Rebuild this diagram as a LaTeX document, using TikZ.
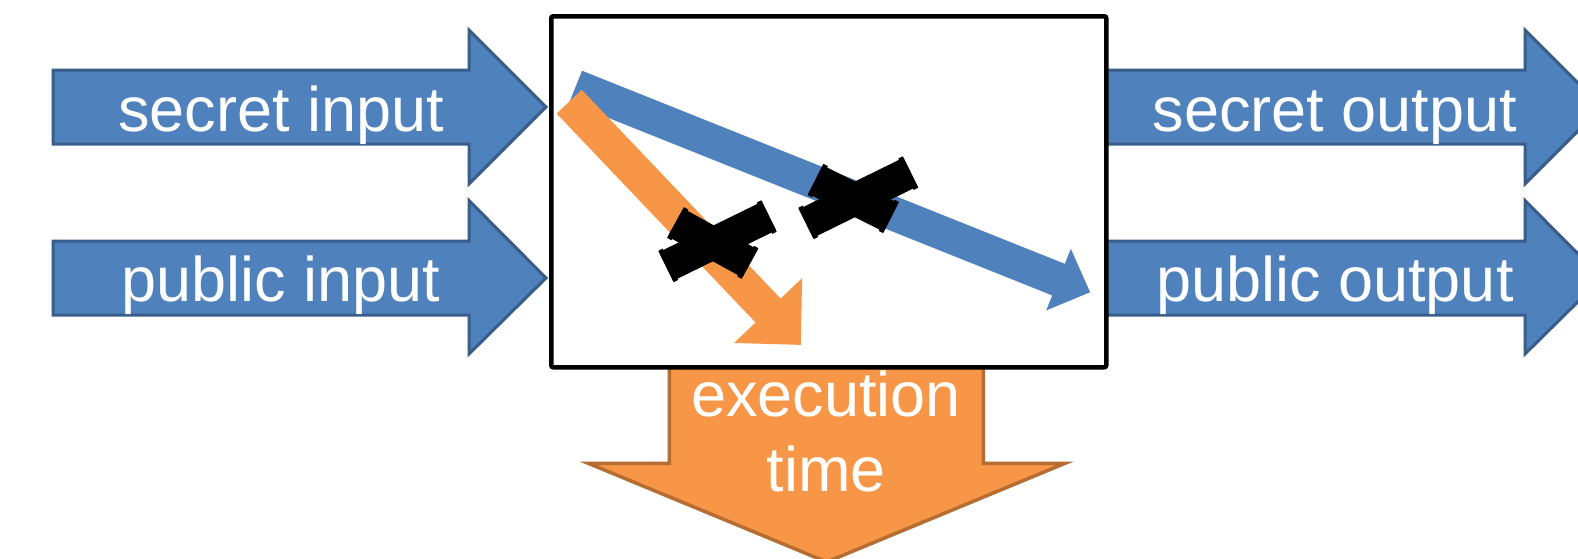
\documentclass[tikz,border=0pt]{standalone}
\usepackage{fontspec}
\setmainfont{Liberation Sans}
\usetikzlibrary{calc}

\definecolor{ablue}{HTML}{4F81BD}
\definecolor{ablueline}{HTML}{385D8A}
\definecolor{aorange}{HTML}{F79646}
\definecolor{aorangeline}{HTML}{B66D31}

\tikzset{
  blockblue/.style={fill=ablue, draw=ablueline, line width=3pt, line join=miter},
  blockorange/.style={fill=aorange, draw=aorangeline, line width=3.5pt, line join=miter},
  arrowtext/.style={text=white, font=\fontsize{63}{75}\selectfont, inner sep=0pt, anchor=base},
  inkstrip/.style={draw=black, line width=32pt},
  inktab/.style={draw=black, line width=35pt},
}

\begin{document}
\begin{tikzpicture}[x=1pt, y=-1pt]
  \useasboundingbox (0,0) rectangle (1578,558);
  \clip (0,0) rectangle (1578,558);

  % outputs
  \draw[blockblue] (1100,70) -- (1525,70) -- (1525,30) -- (1602,107)
    -- (1525,184) -- (1525,144) -- (1100,144) -- cycle;
  \draw[blockblue] (1100,241) -- (1525,241) -- (1525,200.5) -- (1602,278)
    -- (1525,354) -- (1525,315) -- (1100,315) -- cycle;

  % inputs
  \draw[blockblue] (53,70) -- (469,70) -- (469,30) -- (546,107)
    -- (469,184) -- (469,144) -- (53,144) -- cycle;
  \draw[blockblue] (53,241) -- (469,241) -- (469,200.5) -- (546,278)
    -- (469,354) -- (469,315) -- (53,315) -- cycle;

  % execution time
  \draw[blockorange] (669.3,360) -- (669.3,463.3) -- (588.3,463.3) -- (826.7,562)
    -- (1065,463.3) -- (983.3,463.3) -- (983.3,360) -- cycle;

  % the program
  \node[draw=black, fill=white, line width=4.5pt, rounded corners=2pt,
        minimum width=555pt, minimum height=351pt, inner sep=0pt, anchor=north west]
        (prog) at (549,14) {};

  % secret data flowing to the outputs
  \begin{scope}[shift={(575.7,86.5)}, rotate=-21.8]
    \fill[ablue] (0,-17) -- (520,-17) -- (520,-33.2) -- (554,0)
      -- (520,33.2) -- (520,17) -- (0,17) -- cycle;
  \end{scope}

  % secret data flowing to the timing
  \begin{scope}[shift={(569.2,101.7)}, rotate=-46.4]
    \fill[aorange] (0,-17.3) -- (288.4,-17.3) -- (288.4,-47) -- (335.8,0)
      -- (288.4,47) -- (288.4,17.3) -- (0,17.3) -- cycle;
  \end{scope}

  % both flows crossed out with strips of tape
  \coordinate (xa1) at (666,266.5); \coordinate (xa2) at (769,216);
  \coordinate (xb1) at (675.5,222.5); \coordinate (xb2) at (750,263.5);
  \coordinate (ya1) at (806,223.5); \coordinate (ya2) at (910.5,172);
  \coordinate (yb1) at (815.5,179.5); \coordinate (yb2) at (891,217.5);
  \foreach \s/\e in {xa1/xa2, xb1/xb2, ya1/ya2, yb1/yb2} {
    \draw[inkstrip] (\s) -- (\e);
    \draw[inktab] (\s) -- ($(\s)!5pt!(\e)$);
    \draw[inktab] ($(\e)!5pt!(\s)$) -- (\e);
  }

  % labels
  \node[arrowtext] (secin)  at (281,131)    {secret input};
  \node[arrowtext] (pubin)  at (281,301.5)  {public input};
  \node[arrowtext] (secout) at (1335,131)   {secret output};
  \node[arrowtext] (pubout) at (1335,301.5) {public output};
  \node[arrowtext] (exec)   at (826,416)    {execution};
  \node[arrowtext] (time)   at (826,491.5)  {time};
\end{tikzpicture}
\end{document}
